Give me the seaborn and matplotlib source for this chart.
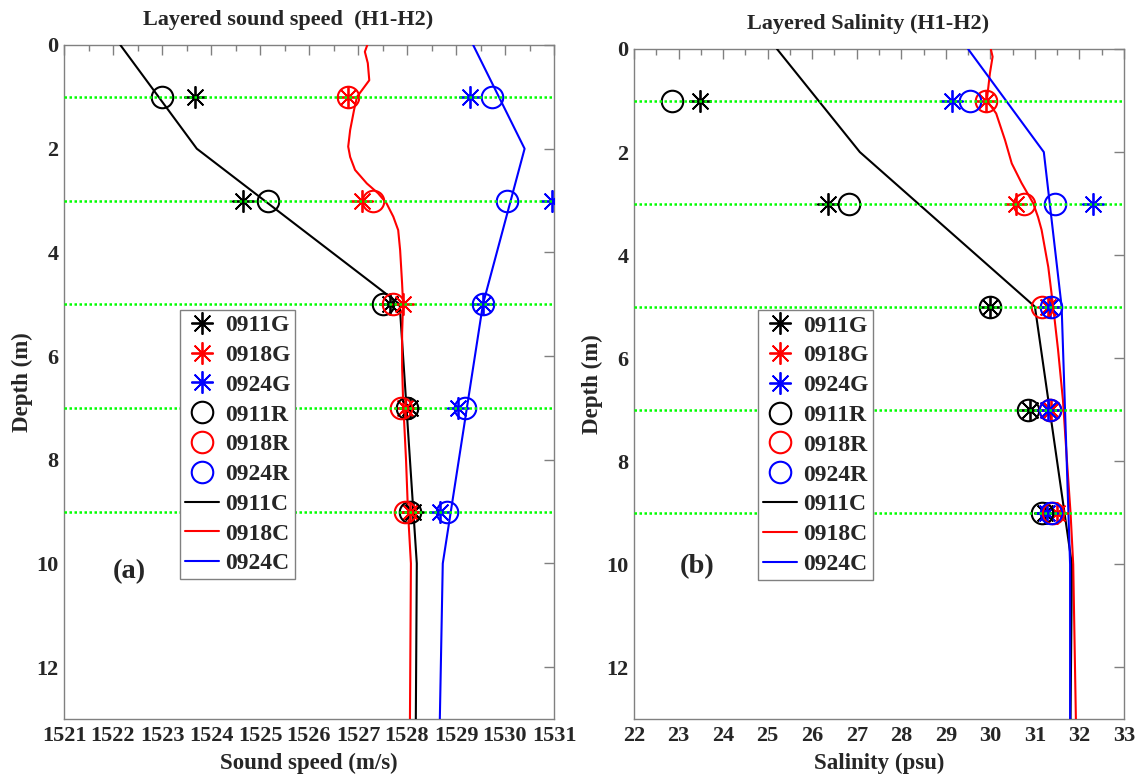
import numpy as np
import pandas as pd
import matplotlib
matplotlib.use("Agg")
import matplotlib.pyplot as plt
from matplotlib.ticker import MultipleLocator
import seaborn as sns

# ---------------- data ----------------
layer_depths = [1, 3, 5, 7, 9]

# Sound speed at layer depths (m/s)
ss_0911G = [1523.67, 1524.65, 1527.65, 1528.06, 1528.12]
ss_0918G = [1526.80, 1527.08, 1527.92, 1527.96, 1528.06]
ss_0924G = [1529.29, 1530.96, 1529.55, 1529.04, 1528.67]
ss_0911R = [1523.00, 1525.16, 1527.50, 1528.00, 1528.06]
ss_0918R = [1526.80, 1527.30, 1527.71, 1527.88, 1527.96]
ss_0924R = [1529.73, 1530.04, 1529.55, 1529.18, 1528.82]

# Sound speed profiles
ss_0911C_depth = [0, 2, 5, 10, 13]
ss_0911C = [1522.15, 1523.71, 1527.85, 1528.20, 1528.18]
ss_0924C_depth = [0, 2, 5, 10, 13]
ss_0924C = [1529.35, 1530.40, 1529.55, 1528.73, 1528.67]
ss_0918C_depth = [0, 0.13, 0.35, 0.68, 1.0, 1.25, 1.64, 1.96, 2.16, 2.41,
                  2.67, 2.86, 3.05, 3.31, 3.57, 3.96, 4.28, 4.6, 5.0, 5.56,
                  6.2, 6.85, 8.0, 9.0, 10.0, 13.0]
ss_0918C = [1527.19, 1527.14, 1527.20, 1527.23, 1526.98, 1526.92, 1526.84,
            1526.80, 1526.84, 1526.94, 1527.18, 1527.41, 1527.58, 1527.72,
            1527.82, 1527.86, 1527.88, 1527.90, 1527.92, 1527.90, 1527.90,
            1527.92, 1527.98, 1528.02, 1528.08, 1528.06]

# Salinity at layer depths (psu)
sal_0911G = [23.48, 26.36, 30.00, 30.88, 31.23]
sal_0918G = [29.90, 30.57, 31.30, 31.37, 31.49]
sal_0924G = [29.14, 32.30, 31.34, 31.30, 31.27]
sal_0911R = [22.85, 26.83, 30.00, 30.85, 31.16]
sal_0918R = [29.90, 30.75, 31.16, 31.34, 31.40]
sal_0924R = [29.54, 31.45, 31.37, 31.34, 31.37]

# Salinity profiles
sal_0911C_depth = [0, 2, 5, 10, 13]
sal_0911C = [25.21, 27.07, 31.00, 31.83, 31.80]
sal_0924C_depth = [0, 2, 5, 10, 13]
sal_0924C = [29.50, 31.20, 31.60, 31.79, 31.79]
sal_0918C_depth = [0, 0.15, 0.47, 1.0, 1.25, 1.77, 2.22, 2.6, 2.99, 3.26,
                   3.51, 4.23, 5.0, 5.84, 6.82, 8.0, 9.0, 10.0, 13.0]
sal_0918C = [30.01, 30.05, 29.99, 29.92, 30.13, 30.33, 30.48, 30.70, 30.96,
             31.07, 31.15, 31.30, 31.41, 31.52, 31.63, 31.72, 31.80, 31.86,
             31.92]

names = ["0911", "0918", "0924"]
colors = {"0911": "black", "0918": "red", "0924": "blue"}

# ---------------- style ----------------
sns.set_style("white")
plt.rcParams["font.family"] = ["Liberation Serif", "DejaVu Serif"]
plt.rcParams["font.weight"] = "bold"
plt.rcParams["axes.labelweight"] = "bold"

ASTER = (8, 2, 0)
SPINE = "#808080"
GREEN = "#00ff00"

fig = plt.figure(figsize=(11.43, 7.76), dpi=100)
W, H = 1143, 776
ax1 = fig.add_axes([64 / W, 57 / H, 490 / W, 674 / H])
ax2 = fig.add_axes([634 / W, 57 / H, 490 / W, 670 / H])


def draw_panel(ax, g_vals, r_vals, profiles, xlim, xlabel, title, title_x, tag, tag_pos, leg_pos):
    handles = {}
    # layer markers: asterisks (G) and open circles (R)
    for nm, vals in zip(names, g_vals):
        df = pd.DataFrame({"v": vals, "d": layer_depths})
        sns.lineplot(data=df, x="v", y="d", orient="y", ax=ax, linestyle="",
                     marker=ASTER, markersize=16, markeredgewidth=1.3,
                     markeredgecolor=colors[nm], markerfacecolor=colors[nm],
                     color=colors[nm], label=nm + "G", legend=False, zorder=4)
        handles[nm + "G"] = ax.lines[-1]
    for nm, vals in zip(names, r_vals):
        df = pd.DataFrame({"v": vals, "d": layer_depths})
        sns.lineplot(data=df, x="v", y="d", orient="y", ax=ax, linestyle="",
                     marker="o", markersize=15.5, markeredgewidth=1.5,
                     markerfacecolor="none", markeredgecolor=colors[nm],
                     color=colors[nm], label=nm + "R", legend=False, zorder=4)
        handles[nm + "R"] = ax.lines[-1]
    # continuous profiles
    for nm, (dep, vals) in zip(names, profiles):
        df = pd.DataFrame({"v": vals, "d": dep})
        sns.lineplot(data=df, x="v", y="d", orient="y", sort=False, ax=ax,
                     color=colors[nm], linewidth=1.5, label=nm + "C",
                     legend=False, zorder=3)
        handles[nm + "C"] = ax.lines[-1]
    # layer boundaries
    for d in layer_depths:
        ax.axhline(d, color=GREEN, linestyle=(0, (1, 1)), linewidth=1.8, zorder=5)

    ax.set_xlim(*xlim)
    ax.set_ylim(13, 0)
    ax.xaxis.set_major_locator(MultipleLocator(1))
    ax.xaxis.set_minor_locator(MultipleLocator(0.5))
    ax.yaxis.set_major_locator(MultipleLocator(2))
    ax.tick_params(which="both", direction="in", top=True, right=True,
                   color=SPINE, labelsize=16)
    ax.tick_params(which="major", length=7, width=1)
    ax.tick_params(which="minor", length=4, width=1)
    ax.tick_params(axis="x", pad=5)
    ax.tick_params(axis="y", pad=4)
    for lab in ax.get_xticklabels() + ax.get_yticklabels():
        lab.set_fontweight("bold")
    for sp in ax.spines.values():
        sp.set_color(SPINE)
        sp.set_linewidth(1.0)
        sp.set_visible(True)

    ax.set_xlabel(xlabel, fontsize=16.5, fontweight="bold", labelpad=5)
    ax.set_ylabel("Depth (m)", fontsize=16.5, fontweight="bold", labelpad=2)
    ax.text(title_x, 1.022, title, transform=ax.transAxes, ha="center",
            va="bottom", fontsize=16, fontweight="bold")
    ax.text(tag_pos[0], tag_pos[1], tag, transform=ax.transAxes, ha="center",
            va="center", fontsize=20.5, fontweight="bold")

    order = [n + "G" for n in names] + [n + "R" for n in names] + [n + "C" for n in names]
    leg = ax.legend([handles[k] for k in order], order, loc="upper left",
                    bbox_to_anchor=leg_pos, fontsize=17, frameon=True,
                    fancybox=False, framealpha=1, edgecolor=SPINE,
                    handlelength=1.45, handletextpad=0.25, labelspacing=0.35,
                    borderpad=0.2, borderaxespad=0)
    leg.get_frame().set_linewidth(1.0)
    for t in leg.get_texts():
        t.set_fontweight("bold")


draw_panel(ax1, [ss_0911G, ss_0918G, ss_0924G], [ss_0911R, ss_0918R, ss_0924R],
           [(ss_0911C_depth, ss_0911C), (ss_0918C_depth, ss_0918C), (ss_0924C_depth, ss_0924C)],
           (1521, 1531), "Sound speed (m/s)", "Layered sound speed  (H1-H2)", 0.457,
           "(a)", (0.133, 0.218), (0.237, 0.607))
draw_panel(ax2, [sal_0911G, sal_0918G, sal_0924G], [sal_0911R, sal_0918R, sal_0924R],
           [(sal_0911C_depth, sal_0911C), (sal_0918C_depth, sal_0918C), (sal_0924C_depth, sal_0924C)],
           (22, 33), "Salinity (psu)", "Layered Salinity (H1-H2)", 0.478,
           "(b)", (0.129, 0.227), (0.253, 0.610))

fig.savefig("out.png", dpi=100, facecolor="white")
